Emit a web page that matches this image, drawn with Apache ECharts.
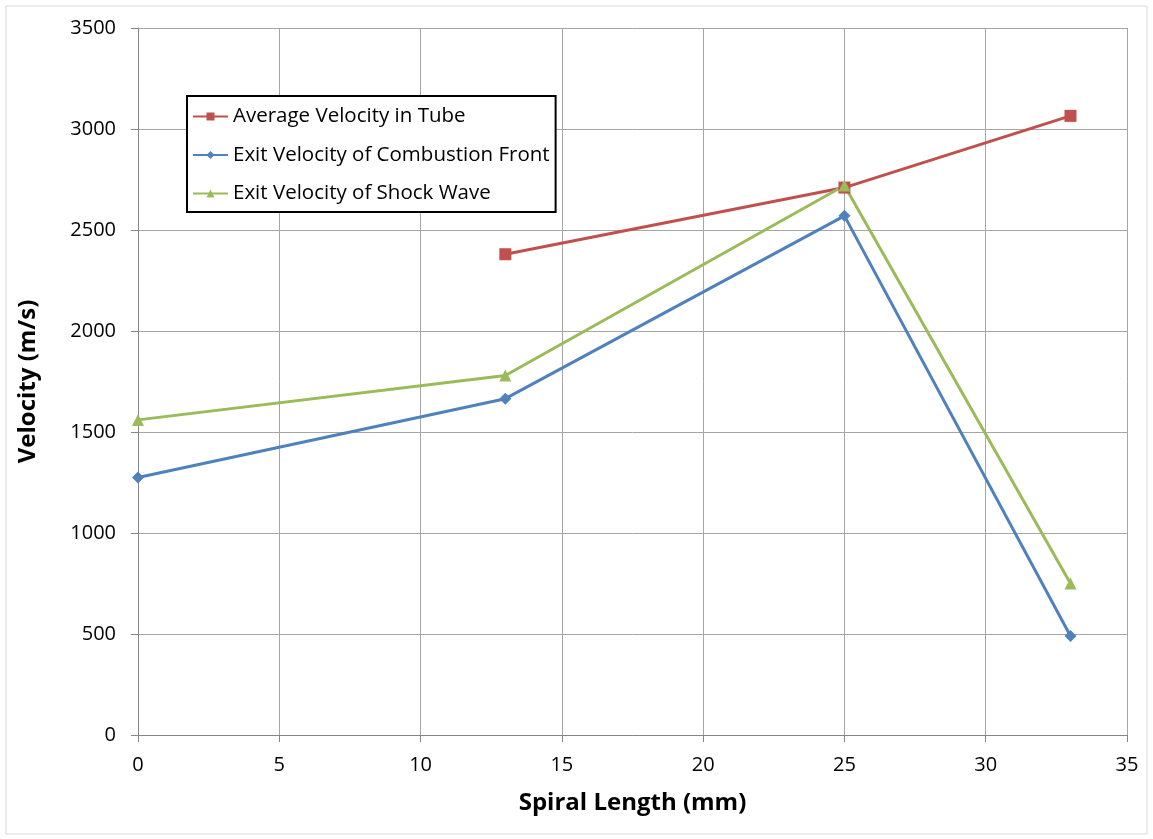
<!DOCTYPE html>
<html>
<head>
<meta charset="utf-8">
<script src="https://cdn.jsdelivr.net/npm/echarts@6/dist/echarts.min.js"></script>
<style>
  html, body { margin: 0; padding: 0; background: #fff; }
  #chart { width: 1153px; height: 839px; }
</style>
</head>
<body>
<div id="chart"></div>
<script>
// Spiral length (mm) at which each velocity was measured
const spiralLength = [0, 13, 25, 33];

// Velocities in m/s (null = not measured)
const avgVelocityTube = [null, 2380, 2710, 3065];
const exitVelocityCombustion = [1275, 1665, 2570, 490];
const exitVelocityShock = [1560, 1780, 2720, 750];

const seriesNames = [
  'Average Velocity in Tube',
  'Exit Velocity of Combustion Front',
  'Exit Velocity of Shock Wave'
];

const FONT = '"Open Sans", "Noto Sans", sans-serif';

function pairs(values) {
  return spiralLength.map((x, i) => [x, values[i]]).filter(p => p[1] !== null);
}

const chart = echarts.init(document.getElementById('chart'), null, { renderer: 'canvas' });

chart.setOption({
  backgroundColor: '#ffffff',
  animation: false,
  graphic: [{
    type: 'rect',
    shape: { x: 6, y: 6, width: 1141, height: 828 },
    style: { fill: 'none', stroke: '#d9d9d9', lineWidth: 1 },
    silent: true,
    z: -1
  }],
  grid: { left: 138, right: 26, top: 28, bottom: 104, containLabel: false },
  legend: {
    orient: 'vertical',
    left: 187,
    top: 96,
    backgroundColor: '#ffffff',
    borderColor: '#000000',
    borderWidth: 2,
    borderRadius: 0,
    padding: [10, 6, 8, 5],
    itemGap: 17.5,
    itemWidth: 35,
    itemHeight: 10,
    textStyle: { fontFamily: FONT, fontSize: 20.5, color: '#000' },
    data: seriesNames
  },
  xAxis: {
    type: 'value',
    min: 0,
    max: 35,
    interval: 5,
    name: 'Spiral Length (mm)',
    nameLocation: 'middle',
    nameGap: 56,
    nameTextStyle: { fontFamily: FONT, fontSize: 24, fontWeight: 'bold', color: '#000' },
    axisLine: { show: true, onZero: false, lineStyle: { color: '#868686', width: 1 } },
    axisTick: { show: true, length: 7, lineStyle: { color: '#868686' } },
    axisLabel: { fontFamily: FONT, fontSize: 20, color: '#000', margin: 20 },
    splitLine: { show: true, lineStyle: { color: '#a6a6a6', width: 1 } }
  },
  yAxis: {
    type: 'value',
    min: 0,
    max: 3500,
    interval: 500,
    name: 'Velocity (m/s)',
    nameLocation: 'middle',
    nameGap: 98,
    nameRotate: 90,
    nameTextStyle: { fontFamily: FONT, fontSize: 24, fontWeight: 'bold', color: '#000' },
    axisLine: { show: true, lineStyle: { color: '#868686', width: 1 } },
    axisTick: { show: true, length: 7, lineStyle: { color: '#868686' } },
    axisLabel: {
      fontFamily: FONT, fontSize: 20, color: '#000', margin: 22,
      formatter: v => String(v)
    },
    splitLine: { show: true, lineStyle: { color: '#a6a6a6', width: 1 } }
  },
  series: [
    {
      name: seriesNames[0],
      type: 'line',
      data: pairs(avgVelocityTube),
      symbol: 'rect',
      symbolSize: 12,
      itemStyle: { color: '#C0504D' },
      lineStyle: { color: '#C0504D', width: 3 }
    },
    {
      name: seriesNames[1],
      type: 'line',
      data: pairs(exitVelocityCombustion),
      symbol: 'diamond',
      symbolSize: 12,
      itemStyle: { color: '#4F81BD' },
      lineStyle: { color: '#4F81BD', width: 3 }
    },
    {
      name: seriesNames[2],
      type: 'line',
      data: pairs(exitVelocityShock),
      symbol: 'triangle',
      symbolSize: 12,
      itemStyle: { color: '#9BBB59' },
      lineStyle: { color: '#9BBB59', width: 3 }
    }
  ]
});
</script>
</body>
</html>
